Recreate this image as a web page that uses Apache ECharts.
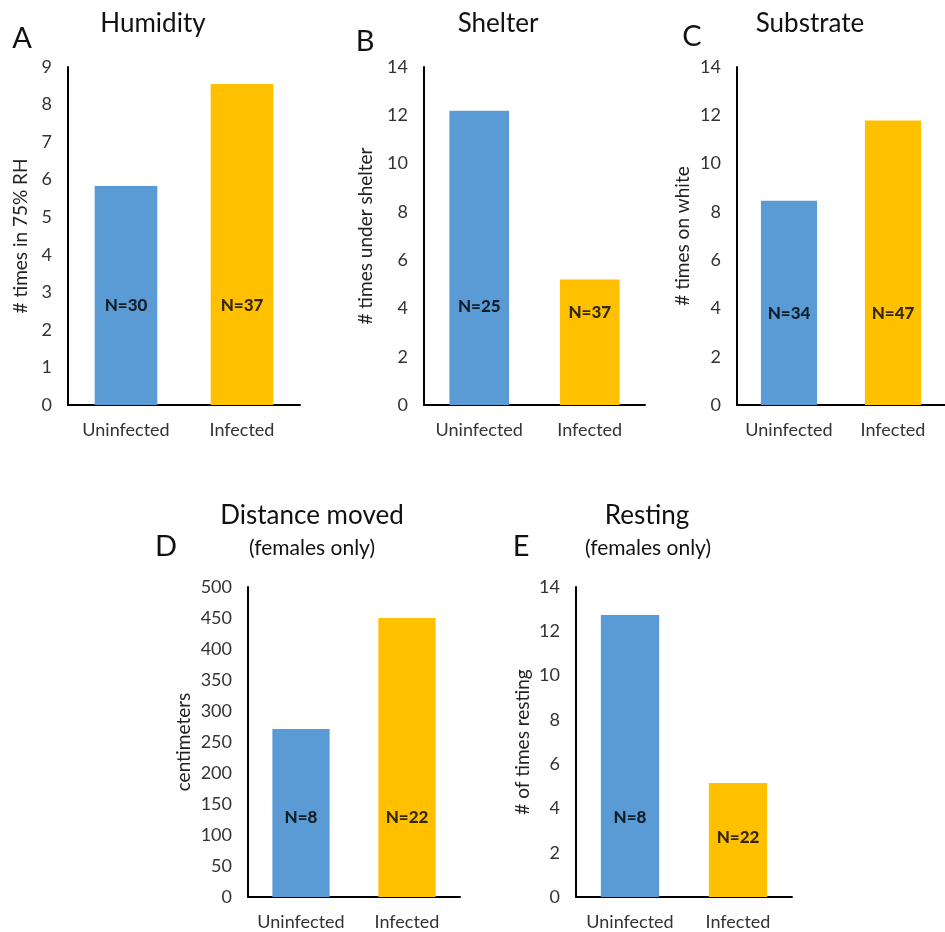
<!DOCTYPE html>
<html><head><meta charset="utf-8">
<script src="https://cdn.jsdelivr.net/npm/echarts@6/dist/echarts.min.js"></script>
<style>html,body{margin:0;padding:0;background:#fff}#c{width:945px;height:932px}</style>
</head><body><div id="c"></div>
<script>
const categories = ['Uninfected', 'Infected'];
// values per panel
const humidity = [5.83, 8.55];
const shelter = [12.19, 5.2];
const substrate = [8.46, 11.78];
const distance = [271, 450];
const resting = [12.74, 5.15];
// sample-size labels and the value at which they sit
const nHumidity = ['N=30', 'N=37'];   const nHumidityY = [2.66, 2.66];
const nShelter = ['N=25', 'N=37'];    const nShelterY = [4.06, 3.85];
const nSubstrate = ['N=34', 'N=47'];  const nSubstrateY = [3.8, 3.8];
const nDistance = ['N=8', 'N=22'];    const nDistanceY = [129, 129];
const nResting = ['N=8', 'N=22'];     const nRestingY = [3.6, 2.7];
// axis scales
const yMax = [9, 14, 14, 500, 14];
const yStep = [1, 2, 2, 50, 2];
const yNames = ['# times in 75% RH', '# times under shelter', '# times on white', 'centimeters', '# of times resting'];

const FONT = 'Lato';
const colors = ['#5B9BD5', '#FFC000'];
const panels = [
  {vals: humidity, n: nHumidity, ny: nHumidityY, grid: {left: 68, top: 67, width: 232, height: 338}, gap: 38},
  {vals: shelter, n: nShelter, ny: nShelterY, grid: {left: 424, top: 67, width: 221, height: 338}, gap: 49},
  {vals: substrate, n: nSubstrate, ny: nSubstrateY, grid: {left: 737, top: 67, width: 220, height: 338}, gap: 45},
  {vals: distance, n: nDistance, ny: nDistanceY, grid: {left: 248, top: 587, width: 212, height: 310}, gap: 55},
  {vals: resting, n: nResting, ny: nRestingY, grid: {left: 576, top: 587, width: 216, height: 310}, gap: 44}
];

const grid = [], xAxis = [], yAxis = [], series = [];
panels.forEach((p, i) => {
  grid.push(Object.assign({containLabel: false}, p.grid));
  xAxis.push({
    type: 'category', gridIndex: i, data: categories,
    axisLine: {lineStyle: {color: '#000', width: 2}},
    axisTick: {show: false},
    axisLabel: {interval: 0, color: '#333', fontFamily: FONT, fontSize: 18, margin: 16}
  });
  yAxis.push({
    type: 'value', gridIndex: i, min: 0, max: yMax[i], interval: yStep[i],
    name: yNames[i], nameLocation: 'middle', nameGap: p.gap,
    nameTextStyle: {color: '#222', fontFamily: FONT, fontSize: 19},
    axisLine: {show: true, lineStyle: {color: '#000', width: 2}},
    axisTick: {show: false},
    splitLine: {show: false},
    axisLabel: {color: '#333', fontFamily: FONT, fontSize: 18, margin: 16}
  });
  series.push({
    type: 'bar', xAxisIndex: i, yAxisIndex: i, barWidth: '54%',
    data: p.vals.map((v, k) => ({value: v, itemStyle: {color: colors[k]}})),
    silent: true, animation: false
  });
  series.push({
    type: 'scatter', xAxisIndex: i, yAxisIndex: i, symbolSize: 0,
    data: p.ny.map((v, k) => ({value: [k, v], name: p.n[k]})),
    label: {show: true, position: 'inside', formatter: d => d.name,
      color: '#000', fontFamily: FONT, fontWeight: 900, fontSize: 17},
    silent: true, animation: false, z: 5
  });
});

function txt(x, y, s, size) {
  return {type: 'text', x: x, y: y, style: {text: s, fontFamily: FONT, fontSize: size, fill: '#111', textAlign: 'center', textVerticalAlign: 'middle'}};
}
const graphic = [
  txt(153, 24, 'Humidity', 26), txt(498, 24, 'Shelter', 26), txt(810, 24, 'Substrate', 26),
  txt(312, 516, 'Distance moved', 26), txt(647, 516, 'Resting', 26),
  txt(312, 548, '(females only)', 21), txt(648, 548, '(females only)', 21),
  txt(22, 39, 'A', 29), txt(365, 42, 'B', 29), txt(692, 37, 'C', 29),
  txt(166, 547, 'D', 29), txt(521, 547, 'E', 29)
];

const chart = echarts.init(document.getElementById('c'), null, {renderer: 'canvas'});
chart.setOption({animation: false, grid, xAxis, yAxis, series, graphic});
</script></body></html>
